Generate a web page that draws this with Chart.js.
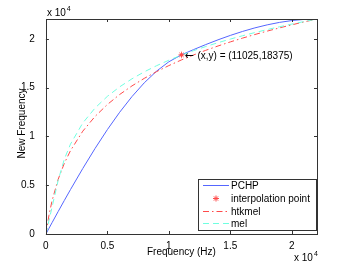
<!DOCTYPE html>
<html><head><meta charset="utf-8">
<script src="https://cdn.jsdelivr.net/npm/chart.js@4/dist/chart.umd.min.js"></script>
<style>html,body{margin:0;padding:0;background:#fff;}#wrap{width:350px;height:263px;}</style>
</head><body><div id="wrap"><canvas id="c" width="350" height="263"></canvas></div>
<script>
const freqHz = [0, 250, 500, 1000, 1500, 2000, 3000, 4000, 5000, 6000, 7000, 8000, 9000, 10000, 11025, 12000, 13000, 14000, 15000, 16000, 17000, 18000, 19000, 20000, 21000, 22050];
const pchpValues = [0, 582, 1161, 2310, 3442, 4557, 6720, 8777, 10706, 12485, 14092, 15505, 16702, 17661, 18375, 18906, 19426, 19914, 20367, 20777, 21140, 21450, 21701, 21889, 22007, 22050];
const htkmelValues = [0, 1934, 3414, 5620, 7253, 8550, 10546, 12061, 13283, 14307, 15188, 15961, 16651, 17272, 17851, 18357, 18837, 19284, 19700, 20092, 20460, 20808, 21138, 21452, 21750, 22050];
const melValues = [0, 1378, 2757, 5513, 7681, 9219, 11386, 12924, 14117, 15092, 15916, 16630, 17260, 17823, 18345, 18797, 19225, 19621, 19990, 20335, 20659, 20965, 21254, 21528, 21789, 22050];
const interpPoint = [11025, 18375];
const tickValues = [0, 5000, 10000, 15000, 20000];
const tickLabels = ['0', '0.5', '1', '1.5', '2'];
const axisMax = 22050;
const seriesNames = ['PCHP', 'interpolation point', 'htkmel', 'mel'];
const xTitle = 'Frequency (Hz)';
const yTitle = 'New Frequency';
const annotationArrow = '\u2190';
const annotationText = '(x,y) = (11025,18375)';

const FAM = '"Liberation Sans", Arial, sans-serif';
const FONT = '10px ' + FAM;
const C_BLUE = '#5566ff', C_RED = '#ff4a4a', C_CYAN = '#70ffe0', C_AXIS = '#333';

function pts(ys){ return freqHz.map((x,i)=>({x:x, y:ys[i]})); }

function drawStar(ctx, x, y, col){
  ctx.save(); ctx.strokeStyle = col; ctx.lineWidth = 1; ctx.beginPath();
  const r = 3;
  ctx.moveTo(x-r, y); ctx.lineTo(x+r, y);
  ctx.moveTo(x, y-r); ctx.lineTo(x, y+r);
  ctx.moveTo(x-r*0.7, y-r*0.7); ctx.lineTo(x+r*0.7, y+r*0.7);
  ctx.moveTo(x-r*0.7, y+r*0.7); ctx.lineTo(x+r*0.7, y-r*0.7);
  ctx.stroke(); ctx.restore();
}

const decor = {
  id: 'decor',
  afterDraw(chart){
    const ctx = chart.ctx, a = chart.chartArea, xs = chart.scales.x, ys = chart.scales.y;
    ctx.save();
    ctx.strokeStyle = C_AXIS; ctx.lineWidth = 1;
    ctx.strokeRect(Math.round(a.left)+0.5, Math.round(a.top)+0.5, Math.round(a.right-a.left), Math.round(a.bottom-a.top));
    ctx.beginPath();
    tickValues.forEach(v=>{
      const px = Math.round(xs.getPixelForValue(v))+0.5;
      ctx.moveTo(px, a.bottom); ctx.lineTo(px, a.bottom-3);
      ctx.moveTo(px, a.top); ctx.lineTo(px, a.top+3);
      const py = Math.round(ys.getPixelForValue(v))+0.5;
      ctx.moveTo(a.left, py); ctx.lineTo(a.left+3, py);
      ctx.moveTo(a.right, py); ctx.lineTo(a.right-3, py);
    });
    ctx.stroke();
    ctx.fillStyle = '#000'; ctx.textAlign = 'center'; ctx.textBaseline = 'middle'; ctx.font = FONT;
    ctx.fillText(xTitle, (a.left+a.right)/2, 252);
    ctx.save(); ctx.translate(22.5, (a.top+a.bottom)/2 - 3); ctx.rotate(-Math.PI/2);
    ctx.fillText(yTitle, 0, 0); ctx.restore();
    ctx.textBaseline = 'alphabetic'; ctx.textAlign = 'left';
    function expo(x, y){
      ctx.font = FONT; ctx.fillText('x 10', x, y);
      const w = ctx.measureText('x 10').width;
      ctx.font = '7px ' + FAM; ctx.fillText('4', x+w+1, y-5);
    }
    expo(a.left+1, a.top-3);
    expo(a.right-23, 261);
    const ax = xs.getPixelForValue(interpPoint[0]), ay = ys.getPixelForValue(interpPoint[1]);
    ctx.textBaseline = 'middle';
    ctx.font = '11px "DejaVu Sans", sans-serif'; ctx.fillText(annotationArrow, ax+3, ay+1);
    ctx.font = FONT; ctx.fillText(annotationText, ax+16, ay+1);
    const lx0 = 198.5, ly0 = 179.5, lx1 = 316.5, ly1 = 230.5;
    ctx.fillStyle = '#fff'; ctx.fillRect(lx0, ly0, lx1-lx0, ly1-ly0);
    ctx.strokeStyle = C_AXIS; ctx.lineWidth = 1; ctx.strokeRect(lx0, ly0, lx1-lx0, ly1-ly0);
    const rows = [185.5, 198.5, 211.5, 223.5];
    const dsList = chart.data.datasets;
    rows.forEach((ry, i)=>{
      const ds = dsList[i];
      if (i === 1) {
        drawStar(ctx, 216, ry, C_RED);
      } else {
        ctx.save();
        ctx.strokeStyle = ds.borderColor; ctx.lineWidth = 1; ctx.setLineDash(ds.borderDash || []);
        ctx.beginPath(); ctx.moveTo(203, ry); ctx.lineTo(229, ry); ctx.stroke();
        ctx.restore();
      }
      ctx.fillStyle = '#000'; ctx.font = FONT; ctx.textBaseline = 'middle'; ctx.textAlign = 'left';
      ctx.fillText(seriesNames[i], 231, ry+0.5);
    });
    ctx.restore();
  }
};

const starImg = (function(){
  const c = document.createElement('canvas'); c.width = 9; c.height = 9;
  drawStar(c.getContext('2d'), 4.5, 4.5, C_RED); return c;
})();

const tickFont = { family: FAM, size: 10 };
new Chart(document.getElementById('c'), {
  type: 'scatter',
  data: { datasets: [
    { label: seriesNames[0], data: pts(pchpValues), showLine: true, borderColor: C_BLUE, borderWidth: 1, pointRadius: 0, tension: 0, order: 3 },
    { label: seriesNames[1], data: [{x: interpPoint[0], y: interpPoint[1]}], showLine: false, pointStyle: starImg, pointRadius: 4, borderColor: C_RED, backgroundColor: C_RED, order: 0 },
    { label: seriesNames[2], data: pts(htkmelValues), showLine: true, borderColor: C_RED, borderWidth: 1, borderDash: [6, 3, 1.5, 3], pointRadius: 0, tension: 0, order: 2 },
    { label: seriesNames[3], data: pts(melValues), showLine: true, borderColor: C_CYAN, borderWidth: 1, borderDash: [6, 4], pointRadius: 0, tension: 0, order: 1 }
  ]},
  options: {
    responsive: false, animation: false, devicePixelRatio: 1,
    layout: { padding: { left: 18, right: 33, top: 19, bottom: 5 } },
    plugins: { legend: { display: false }, tooltip: { enabled: false } },
    scales: {
      x: { type: 'linear', min: 0, max: axisMax,
        afterBuildTicks: s => { s.ticks = tickValues.map(v => ({value: v})); },
        ticks: { callback: (v) => tickLabels[tickValues.indexOf(v)], color: '#000', font: tickFont, padding: 6, maxRotation: 0 },
        grid: { display: false, drawTicks: false }, border: { display: false }
      },
      y: { type: 'linear', min: 0, max: axisMax,
        afterBuildTicks: s => { s.ticks = tickValues.map(v => ({value: v})); },
        ticks: { callback: (v) => tickLabels[tickValues.indexOf(v)], color: '#000', font: tickFont, padding: 3 },
        grid: { display: false }, border: { display: false }
      }
    }
  },
  plugins: [decor]
});
</script></body></html>
